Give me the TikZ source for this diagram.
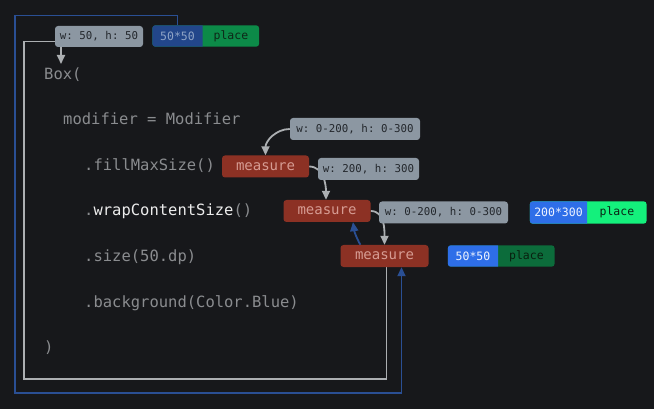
\documentclass[tikz,border=0pt]{standalone}
\usepackage{fontspec}
\setmonofont{DejaVu Sans Mono}
\usetikzlibrary{arrows.meta,backgrounds}
\definecolor{bg}{HTML}{17181B}
\definecolor{codegray}{HTML}{8A8C8F}
\definecolor{codewhite}{HTML}{ECECEC}
\definecolor{tagfill}{HTML}{8C97A2}
\definecolor{tagtext}{HTML}{23272C}
\definecolor{measfill}{HTML}{8C3124}
\definecolor{meastext}{HTML}{D69C93}
\definecolor{dkblue}{HTML}{22468A}
\definecolor{dkbluetext}{HTML}{8FA4C6}
\definecolor{dkgreen}{HTML}{0C8A48}
\definecolor{dkgreentext}{HTML}{0E2818}
\definecolor{brblue}{HTML}{2E6EE8}
\definecolor{brbluetext}{HTML}{EEF3FF}
\definecolor{brgreen}{HTML}{14F07C}
\definecolor{brgreentext}{HTML}{0A2415}
\definecolor{mdgreen}{HTML}{0C6C3B}
\definecolor{mdgreentext}{HTML}{09200F}
\definecolor{linegray}{HTML}{ACAFB2}
\definecolor{lineblue}{HTML}{2A4F94}
\newcommand\mycodefont{\ttfamily\fontsize{15.5pt}{18pt}\selectfont}
\newcommand\mytagfont{\ttfamily\fontsize{10.8pt}{12pt}\selectfont}
\newcommand\mymeasfont{\ttfamily\fontsize{14pt}{16pt}\selectfont}
\newcommand\mysplitfont{\ttfamily\fontsize{11.5pt}{13pt}\selectfont}
\begin{document}
\begin{tikzpicture}[x=1pt,y=-1pt,
  code/.style={anchor=base west, inner sep=0pt, text=codegray, font=\mycodefont},
  tagbox/.style={rounded corners=3pt, inner sep=0pt, minimum height=22pt, fill=tagfill, text=tagtext, font=\mytagfont},
  measbox/.style={rounded corners=3pt, inner sep=0pt, minimum height=22pt, minimum width=87pt, fill=measfill, text=meastext, font=\mymeasfont},
  splitpart/.style={inner sep=0pt, minimum height=21pt, font=\mysplitfont},
  garrow/.style={draw=linegray, line width=1.8pt, -{Triangle[length=9pt,width=8pt]}},
  barrow/.style={draw=lineblue, line width=1.8pt, -{Triangle[length=9pt,width=8pt]}},
  gline/.style={draw=linegray, line width=1.8pt},
]
\useasboundingbox (0,0) rectangle (654,409);

% code
\node[code] (c1) at (44,79.5) {Box(};
\node[code] (c2) at (63,125) {modifier = Modifier};
\node[code] (c3) at (84,170.5) {.fillMaxSize()};
\node[code] (c4) at (84,216) {.\textcolor{codewhite}{wrapContentSize}()};
\node[code] (c5) at (84,261.5) {.size(50.dp)};
\node[code] (c6) at (84,307) {.background(Color.Blue)};
\node[code] (c7) at (44,352.5) {)};

% tags
\node[tagbox, minimum width=88pt, minimum height=21pt] (lbA) at (99,36.5) {w: 50, h: 50};
\node[tagbox, minimum width=130pt] (lb1) at (355,129) {w: 0-200, h: 0-300};
\node[tagbox, minimum width=101pt] (lb2) at (368.5,169) {w: 200, h: 300};
\node[tagbox, minimum width=129pt] (lb3) at (443.5,212.5) {w: 0-200, h: 0-300};

% measure boxes
\node[measbox] (m1) at (265.5,166.5) {measure};
\node[measbox] (m2) at (327,211) {measure};
\node[measbox, minimum width=88pt] (m3) at (384.5,256) {measure};

% split boxes
\node[splitpart, minimum width=50pt, text=dkbluetext] (s1) at (177.5,36) {50*50};
\node[splitpart, minimum width=56pt, text=dkgreentext, anchor=west] (p1) at (s1.east) {place};
\node[splitpart, minimum width=57pt, minimum height=22pt, text=brbluetext] (s2) at (558.5,212.5) {200*300};
\node[splitpart, minimum width=59pt, minimum height=22pt, text=brgreentext, anchor=west] (p2) at (s2.east) {place};
\node[splitpart, minimum width=50pt, text=brbluetext] (s3) at (473,256) {50*50};
\node[splitpart, minimum width=56pt, text=mdgreentext, anchor=west] (p3) at (s3.east) {place};

\coordinate (bTL) at (15,15.5);
\coordinate (bBL) at (15,393);
\coordinate (gBL) at (24,379);
\coordinate (gTL) at (24,41.5);
\coordinate (boxtip) at (61,64);

\begin{scope}[on background layer]
  \fill[bg] (0,0) rectangle (654,409);
  % split fills
  \fill[dkgreen, rounded corners=3pt] (s1.north west) rectangle (p1.south east);
  \begin{scope}\clip (s1.north west) rectangle (s1.south east);
    \fill[dkblue, rounded corners=3pt] (s1.north west) rectangle (p1.south east);\end{scope}
  \fill[brgreen, rounded corners=3pt] (s2.north west) rectangle (p2.south east);
  \begin{scope}\clip (s2.north west) rectangle (s2.south east);
    \fill[brblue, rounded corners=3pt] (s2.north west) rectangle (p2.south east);\end{scope}
  \fill[mdgreen, rounded corners=3pt] (s3.north west) rectangle (p3.south east);
  \begin{scope}\clip (s3.north west) rectangle (s3.south east);
    \fill[brblue, rounded corners=3pt] (s3.north west) rectangle (p3.south east);\end{scope}
  % connectors
  \draw[barrow] (s1.north) |- (bTL) -- (bBL) -| ([xshift=17pt]m3.south);
  \draw[gline] ([xshift=2pt]m3.south) |- (gBL) -- (gTL) -- (lbA.west |- gTL);
  \draw[garrow] (lbA.south -| boxtip) -- (boxtip);
  \draw[garrow] (lb1.west) to[out=180,in=90] (m1.north);
  \draw[garrow] (m1.east) to[out=0,in=90] ([xshift=-1pt]m2.north);
  \draw[garrow] (m2.east) to[out=0,in=90] (m3.north);
  \draw[barrow] ([xshift=20pt]m3.north west) to[bend left=10] ([xshift=26pt]m2.south);
\end{scope}
\end{tikzpicture}
\end{document}
